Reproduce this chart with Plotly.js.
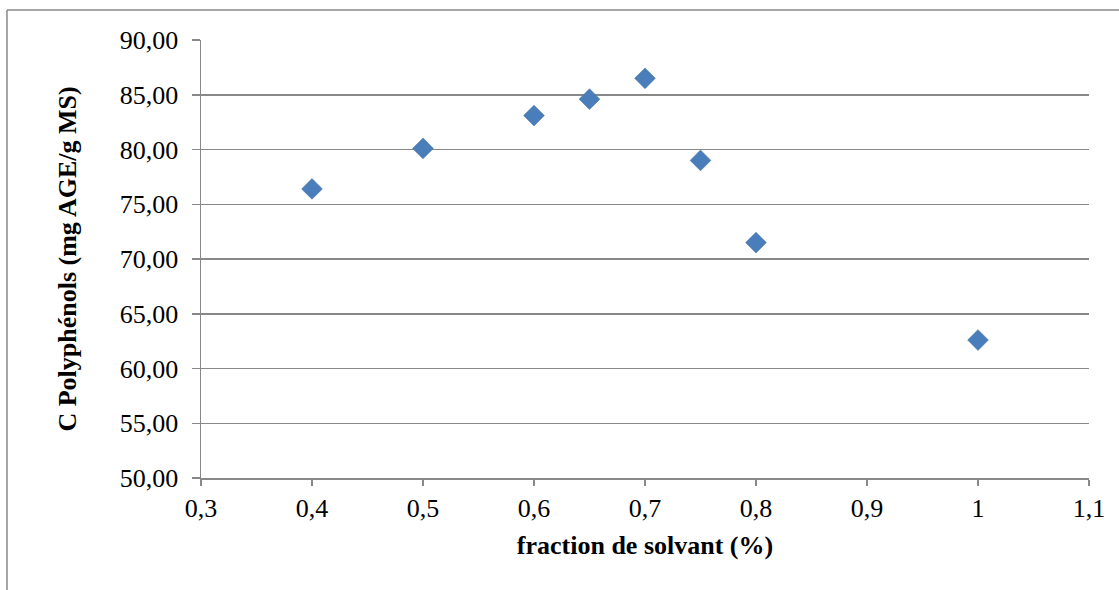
<!DOCTYPE html>
<html>
<head>
<meta charset="utf-8">
<script src="https://cdn.plot.ly/plotly-3.0.1.min.js"></script>
<style>html,body{margin:0;padding:0;background:#fff;}#chart{width:1119px;height:590px;}</style>
</head>
<body>
<div id="chart"></div>
<script>
const fraction = [0.4, 0.5, 0.6, 0.65, 0.7, 0.75, 0.8, 1.0];
const polyphenols = [76.4, 80.1, 83.1, 84.6, 86.5, 79.0, 71.5, 62.6];
const xTicks = [0.3, 0.4, 0.5, 0.6, 0.7, 0.8, 0.9, 1.0, 1.1];
const xTickLabels = ["0,3", "0,4", "0,5", "0,6", "0,7", "0,8", "0,9", "1", "1,1"];
const yTicks = [50, 55, 60, 65, 70, 75, 80, 85, 90];
const yTickLabels = ["50,00", "55,00", "60,00", "65,00", "70,00", "75,00", "80,00", "85,00", "90,00"];

const font = "Liberation Serif, Times New Roman, serif";
const trace = {
  x: fraction, y: polyphenols, type: 'scatter', mode: 'markers',
  marker: {symbol: 'diamond', size: 16, color: '#4a7ebb', line: {width: 0.5, color: '#3f6fa8'}},
  hoverinfo: 'x+y'
};
const layout = {
  width: 1119, height: 590,
  margin: {l: 201, r: 30, t: 40, b: 112},
  paper_bgcolor: '#fff', plot_bgcolor: '#fff',
  showlegend: false,
  font: {family: font, color: '#000', size: 26},
  xaxis: {
    range: [0.3, 1.1], tickvals: xTicks, ticktext: xTickLabels,
    showgrid: false, zeroline: false, showline: true, linecolor: '#888', linewidth: 1.5,
    ticks: 'outside', ticklen: 6, tickcolor: '#888', tickwidth: 1.5,
    tickfont: {family: font, size: 26, color: '#000'},
    title: {text: '<b>fraction de solvant (%)</b>', font: {family: font, size: 26, color: '#000'}, standoff: 14}
  },
  yaxis: {
    range: [50, 90], tickvals: yTicks, ticktext: yTickLabels,
    showgrid: true, gridcolor: '#888', gridwidth: 1.5,
    zeroline: false, showline: true, linecolor: '#888', linewidth: 1.5,
    ticks: 'outside', ticklen: 8, tickcolor: '#888', tickwidth: 1.5,
    ticklabelstandoff: 8,
    tickfont: {family: font, size: 26, color: '#000'},
    title: {text: '<b>C Polyphénols (mg AGE/g MS)</b>', font: {family: font, size: 26, color: '#000'}, standoff: 35}
  },
  shapes: [
    {type: 'line', xref: 'paper', yref: 'paper', x0: -0.2185, x1: 1.04, y0: 1.0685, y1: 1.0685, line: {color: '#888', width: 1.5}},
    {type: 'line', xref: 'paper', yref: 'paper', x0: -0.2185, x1: -0.2185, y0: 1.0685, y1: -0.3, line: {color: '#888', width: 1.5}}
  ]
};
Plotly.newPlot('chart', [trace], layout, {displayModeBar: false, staticPlot: true});
</script>
</body>
</html>
